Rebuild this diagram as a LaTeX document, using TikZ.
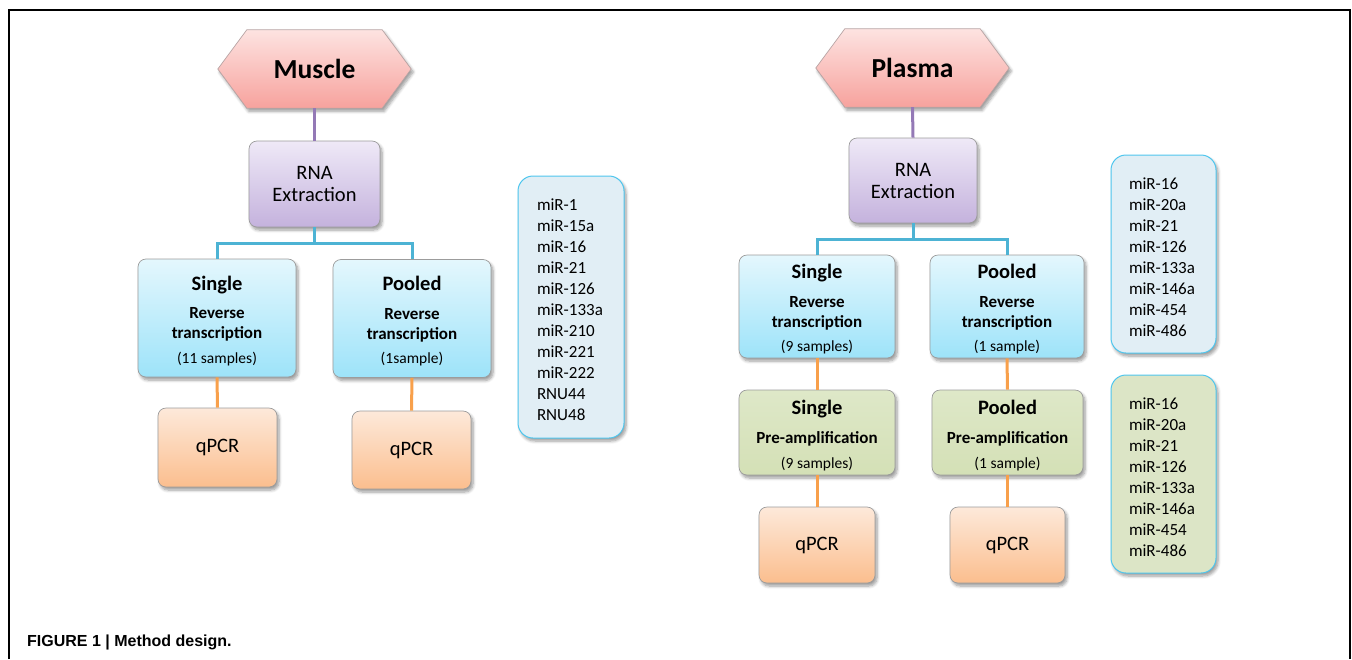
\documentclass[tikz,border=0pt]{standalone}
\usepackage{fontspec}
\setmainfont{Carlito}
\newfontfamily\capfont{Liberation Sans}
\usetikzlibrary{shadows.blur,calc}
\pgfdeclarelayer{background}
\pgfsetlayers{background,main}
\definecolor{hextop}{HTML}{FDE3E1}
\definecolor{hexbot}{HTML}{F7A29D}
\definecolor{hexline}{HTML}{B8A4A4}
\definecolor{rnatop}{HTML}{EFE9F7}
\definecolor{rnabot}{HTML}{C4B2DD}
\definecolor{rttop}{HTML}{E4F7FD}
\definecolor{rtbot}{HTML}{9DE3F9}
\definecolor{patop}{HTML}{DEE8C8}
\definecolor{pabot}{HTML}{D4E0B6}
\definecolor{qtop}{HTML}{FDE9DA}
\definecolor{qbot}{HTML}{FBBE8E}
\definecolor{listblue}{HTML}{E1EEF5}
\definecolor{listgreen}{HTML}{DCE5C6}
\definecolor{listline}{HTML}{4EC6EE}
\definecolor{boxline}{HTML}{9C9C9C}
\definecolor{conpurple}{HTML}{9479B6}
\definecolor{conblue}{HTML}{4DB3D4}
\definecolor{conorange}{HTML}{F8A04B}
\begin{document}
\begin{tikzpicture}[x=1pt,y=-1pt,
  shade/.style={blur shadow={shadow xshift=2pt,shadow yshift=-3pt,shadow blur radius=3pt,shadow blur steps=6,shadow opacity=40}},
  hexnode/.style={inner sep=0pt,minimum width=193pt,minimum height=78pt,font=\bfseries\fontsize{27.5}{30}\selectfont},
  hexfill/.style={draw=hexline,line width=0.7pt,top color=hextop,bottom color=hexbot,shade},
  box/.style={draw=boxline,line width=0.7pt,rounded corners=8pt,align=center,inner sep=0pt,shade},
  rnabox/.style={box,top color=rnatop,bottom color=rnabot,font=\fontsize{20.5}{22}\selectfont},
  rtbox/.style={box,top color=rttop,bottom color=rtbot},
  pabox/.style={box,top color=patop,bottom color=pabot},
  qbox/.style={box,top color=qtop,bottom color=qbot,font=\fontsize{20.5}{24}\selectfont},
  listbox/.style={draw=listline,line width=1pt,rounded corners=15pt,inner sep=0pt,shade},
  listtext/.style={align=left,inner sep=0pt,font=\fontsize{17}{21}\selectfont},
  hd/.style={anchor=base,inner sep=0pt,font=\bfseries\fontsize{20.5}{24}\selectfont},
  sub/.style={anchor=base,inner sep=0pt,font=\bfseries\fontsize{17}{20}\selectfont},
  cnt/.style={anchor=base,inner sep=0pt,font=\fontsize{15.5}{18}\selectfont},
  pcon/.style={conpurple,line width=3pt},
  bcon/.style={conblue,line width=3pt},
  ocon/.style={conorange,line width=3pt}]
\useasboundingbox (0,0) rectangle (1352,659);
\draw[line width=1.3pt] (9,659) -- (9,10) -- (1350,10) -- (1350,659);

% ---------- Muscle ----------
\node[hexnode] (muscle) at (314.5,69) {Muscle};
\node[rnabox,minimum width=131pt,minimum height=86pt] (rnaM) at (314.5,184) {RNA\\Extraction};
\node[rtbox,minimum width=158pt,minimum height=118pt] (sM) at (217,318) {};
\node[rtbox,minimum width=158pt,minimum height=118pt] (pM) at (412,318.5) {};
\node[qbox,minimum width=119pt,minimum height=79pt] (qsM) at (217.5,447.5) {qPCR};
\node[qbox,minimum width=119pt,minimum height=78pt] (qpM) at (411.5,450) {qPCR};
\node[listbox,fill=listblue,minimum width=106pt,minimum height=262pt] (listM) at (571,307) {};
\node[listtext,text width=68pt] (listMt) at ($(listM.center)+(0,3)$)
  {miR-1\\miR-15a\\miR-16\\miR-21\\miR-126\\miR-133a\\miR-210\\miR-221\\miR-222\\RNU44\\RNU48};

\node[hd]  at ($(sM.center)+(0,-28)$) {Single};
\node[sub] at ($(sM.center)+(0,0.5)$) {Reverse};
\node[sub] at ($(sM.center)+(0,20.5)$) {transcription};
\node[cnt] at ($(sM.center)+(0,45)$) {(11 samples)};
\node[hd]  at ($(pM.center)+(0,-28)$) {Pooled};
\node[sub] at ($(pM.center)+(0,0.5)$) {Reverse};
\node[sub] at ($(pM.center)+(0,20.5)$) {transcription};
\node[cnt] at ($(pM.center)+(0,45)$) {(1sample)};

\draw[pcon] (muscle.south) -- (rnaM.north);
\draw[bcon] (rnaM.south) -- ++(0,16) coordinate (jM) -| (sM.north);
\draw[bcon] (jM) -| (pM.north);
\draw[ocon] (sM.south) -- (qsM.north);
\draw[ocon] (pM.south) -- (qpM.north);

% ---------- Plasma ----------
\node[hexnode] (plasma) at (912.5,68) {Plasma};
\node[rnabox,minimum width=128pt,minimum height=85pt] (rnaP) at (913,180.5) {RNA\\Extraction};
\node[rtbox,minimum width=156pt,minimum height=103pt] (sP) at (817,306.5) {};
\node[rtbox,minimum width=154pt,minimum height=103pt] (pP) at (1007,306.5) {};
\node[pabox,minimum width=156pt,minimum height=85pt] (saP) at (817,432.5) {};
\node[pabox,minimum width=151pt,minimum height=85pt] (paP) at (1007.5,432.5) {};
\node[qbox,minimum width=116pt,minimum height=76pt] (qsP) at (817,545) {qPCR};
\node[qbox,minimum width=115pt,minimum height=76pt] (qpP) at (1007.5,545) {qPCR};
\node[listbox,fill=listblue,minimum width=105pt,minimum height=198pt] (listP1) at (1163.5,254) {};
\node[listtext,text width=69pt] (listP1t) at ($(listP1.center)+(0,3)$)
  {miR-16\\miR-20a\\miR-21\\miR-126\\miR-133a\\miR-146a\\miR-454\\miR-486};
\node[listbox,fill=listgreen,minimum width=105pt,minimum height=198pt] (listP2) at (1163.5,474) {};
\node[listtext,text width=69pt] (listP2t) at ($(listP2.center)+(0,3)$)
  {miR-16\\miR-20a\\miR-21\\miR-126\\miR-133a\\miR-146a\\miR-454\\miR-486};

\node[hd]  at ($(sP.center)+(0,-28)$) {Single};
\node[sub] at ($(sP.center)+(0,0.5)$) {Reverse};
\node[sub] at ($(sP.center)+(0,20.5)$) {transcription};
\node[cnt] at ($(sP.center)+(0,45)$) {(9 samples)};
\node[hd]  at ($(pP.center)+(0,-28)$) {Pooled};
\node[sub] at ($(pP.center)+(0,0.5)$) {Reverse};
\node[sub] at ($(pP.center)+(0,20.5)$) {transcription};
\node[cnt] at ($(pP.center)+(0,45)$) {(1 sample)};

\node[hd]  at ($(saP.center)+(0,-18.5)$) {Single};
\node[sub] at ($(saP.center)+(0,10.5)$) {Pre-amplification};
\node[cnt] at ($(saP.center)+(0,35.5)$) {(9 samples)};
\node[hd]  at ($(paP.center)+(0,-18.5)$) {Pooled};
\node[sub] at ($(paP.center)+(0,10.5)$) {Pre-amplification};
\node[cnt] at ($(paP.center)+(0,35.5)$) {(1 sample)};

\draw[pcon] (plasma.south) -- (rnaP.north);
\draw[bcon] (rnaP.south) -- ++(0,16) coordinate (jP) -| (sP.north);
\draw[bcon] (jP) -| (pP.north);
\draw[ocon] (sP.south) -- (saP.north);
\draw[ocon] (pP.south) -- (paP.north);
\draw[ocon] (saP.south) -- (qsP.north);
\draw[ocon] (paP.south) -- (qpP.north);

% hexagon outlines behind their labels
\begin{pgfonlayer}{background}
\foreach \h in {muscle,plasma}{
  \path[hexfill] (\h.west) -- ($(\h.north west)+(29,0)$) -- ($(\h.north east)+(-29,0)$)
    -- (\h.east) -- ($(\h.south east)+(-29,0)$) -- ($(\h.south west)+(29,0)$) -- cycle;
}
\end{pgfonlayer}

\node[anchor=base west,inner sep=0pt,font=\capfont\bfseries\fontsize{16}{18}\selectfont] (caption) at (27,646) {FIGURE 1 | Method design.};
\end{tikzpicture}
\end{document}
